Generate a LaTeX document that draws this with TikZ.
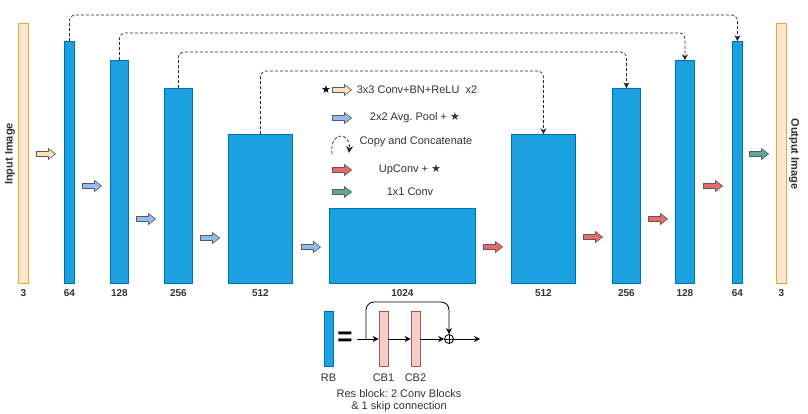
\documentclass[tikz,border=0pt]{standalone}
\usepackage{fontspec}
\setmainfont{Liberation Sans}
\newfontfamily\symfont{DejaVu Sans}
\usetikzlibrary{arrows.meta}
\frenchspacing
\definecolor{barfill}{HTML}{1BA1E2}
\definecolor{barline}{HTML}{006EAF}
\definecolor{imgfill}{HTML}{FFE6CC}
\definecolor{imgline}{HTML}{E5A83A}
\definecolor{cbfill}{HTML}{F8CECC}
\definecolor{cbline}{HTML}{B85450}
\definecolor{arrOr}{HTML}{FFDFB8}
\definecolor{arrBl}{HTML}{92BDF0}
\definecolor{arrRd}{HTML}{EA6B66}
\definecolor{arrGr}{HTML}{5FA898}
\definecolor{txt}{HTML}{333333}
\tikzset{
  bar/.style={draw=barline, fill=barfill, line width=0.8pt, inner sep=0pt, anchor=south west},
  img/.style={draw=imgline, fill=imgfill, line width=0.8pt, inner sep=0pt, anchor=south west},
  cbbox/.style={draw=cbline, fill=cbfill, line width=0.8pt, inner sep=0pt, minimum width=9pt, minimum height=55pt},
  num/.style={text=txt, font=\bfseries\fontsize{10}{12}\selectfont, inner sep=0pt},
  leg/.style={text=txt, font=\fontsize{11}{13}\selectfont, inner sep=0pt},
  blkarrow/.pic={\path[pic actions, draw=black!65, line width=0.6pt, line join=round]
     (-9.5,-2.5) -- (2.5,-2.5) -- (2.5,-5.5) -- (9.5,0) -- (2.5,5.5) -- (2.5,2.5) -- (-9.5,2.5) -- cycle;},
  skip/.style={draw=black!85, line width=0.7pt, dash pattern=on 3pt off 2pt, rounded corners=6pt,
     -{Stealth[length=6pt,width=6pt]}},
  rarr/.style={draw=black, line width=0.8pt, -{Stealth[length=6pt,width=6pt]}},
}
\begin{document}
\begin{tikzpicture}[x=1pt,y=-1pt]
\useasboundingbox[fill=white] (0,0) rectangle (808,414);
% coordinates
\coordinate (lab) at (0,293);
\coordinate (t1) at (0,15);
\coordinate (t2) at (0,33);
\coordinate (t3) at (0,52);
\coordinate (t4) at (0,71);
% bars
\node[img, minimum width=10pt, minimum height=260pt] (in) at (18,284) {};
\node[bar, minimum width=10pt, minimum height=242pt] (e1) at (64,284) {};
\node[bar, minimum width=18pt, minimum height=223pt] (e2) at (110,284) {};
\node[bar, minimum width=28pt, minimum height=195pt] (e3) at (164,284) {};
\node[bar, minimum width=64pt, minimum height=149pt] (e4) at (228,284) {};
\node[bar, minimum width=146pt, minimum height=75pt] (b) at (329,284) {};
\node[bar, minimum width=64pt, minimum height=149pt] (d4) at (511,284) {};
\node[bar, minimum width=28pt, minimum height=195pt] (d3) at (612,284) {};
\node[bar, minimum width=19pt, minimum height=223pt] (d2) at (675,284) {};
\node[bar, minimum width=10pt, minimum height=242pt] (d1) at (732,284) {};
\node[img, minimum width=10pt, minimum height=260pt] (out) at (776,284) {};
% labels
\node[num] at (in.south |- lab) {3};
\node[num] at (e1.south |- lab) {64};
\node[num] at (e2.south |- lab) {128};
\node[num] at (e3.south |- lab) {256};
\node[num] at (e4.south |- lab) {512};
\node[num] at (b.south |- lab) {1024};
\node[num] at (d4.south |- lab) {512};
\node[num] at (d3.south |- lab) {256};
\node[num] at (d2.south |- lab) {128};
\node[num] at (d1.south |- lab) {64};
\node[num] at (out.south |- lab) {3};
\node[text=txt, rotate=90, font=\bfseries\fontsize{11}{13}\selectfont] (tin) at (10,154) {Input Image};
\node[text=txt, rotate=-90, font=\bfseries\fontsize{11}{13}\selectfont] (tout) at (794,154) {Output Image};
% block arrows
\pic[fill=arrOr] (a0) at (46,154) {blkarrow};
\pic[fill=arrBl] (p1) at (92,186) {blkarrow};
\pic[fill=arrBl] (p2) at (146,219) {blkarrow};
\pic[fill=arrBl] (p3) at (210,238) {blkarrow};
\pic[fill=arrBl] (p4) at (311,247) {blkarrow};
\pic[fill=arrRd] (u1) at (493,247) {blkarrow};
\pic[fill=arrRd] (u2) at (593,237) {blkarrow};
\pic[fill=arrRd] (u3) at (658,219) {blkarrow};
\pic[fill=arrRd] (u4) at (713,186) {blkarrow};
\pic[fill=arrGr] (g1) at (759,154) {blkarrow};
% skip connections
\draw[skip] (e1.north) -- (e1.north |- t1) -- (d1.north |- t1) -- (d1.north);
\draw[skip] (e2.north) -- (e2.north |- t2) -- (d2.north |- t2) -- (d2.north);
\draw[skip] (e3.north) -- (e3.north |- t3) -- (d3.north |- t3) -- (d3.north);
\draw[skip] (e4.north) -- (e4.north |- t4) -- (d4.north |- t4) -- (d4.north);
% legend
\node[font=\symfont\fontsize{11}{11}\selectfont, inner sep=0pt] (star) at (326,90) {★};
\pic[fill=arrOr] (l1) at (342,90) {blkarrow};
\node[leg] (lt1) at (417,90) {3x3 Conv+BN+ReLU\ \ x2};
\pic[fill=arrBl] (l2) at (342,118) {blkarrow};
\node[leg] (lt2) at (415,118) {2x2 Avg. Pool + {\symfont\fontsize{11}{12}\selectfont ★}};
\coordinate (cs) at (332,154);
\coordinate (ce) at (349,153);
\draw[skip, -{Stealth[length=7pt,width=7pt]}] (cs) .. controls (329,131) and (351,131) .. (ce);
\node[leg] (lt3) at (416,142) {Copy and Concatenate};
\pic[fill=arrRd] (l4) at (342,170) {blkarrow};
\node[leg] (lt4) at (410,170) {UpConv + {\symfont\fontsize{11}{12}\selectfont ★}};
\pic[fill=arrGr] (l5) at (342,192) {blkarrow};
\node[leg] (lt5) at (410,192) {1x1 Conv};
% res block
\node[draw=barline, fill=barfill, line width=0.8pt, inner sep=0pt, minimum width=9pt, minimum height=55pt] (rb) at (328.5,339) {};
\node[font=\bfseries\fontsize{26}{26}\selectfont, inner sep=0pt] (eq) at (345,339) {=};
\node[cbbox] (cb1) at (383.5,339) {};
\node[cbbox] (cb2) at (415.5,339) {};
\node[circle, draw=black, line width=0.8pt, minimum size=9pt, inner sep=0pt] (op) at (449,339) {};
\draw[line width=0.8pt] (op.north) -- (op.south) (op.west) -- (op.east);
\coordinate (rin) at (357,339);
\coordinate (sk) at (366,339);
\coordinate (skt) at (0,302);
\coordinate (rout) at (480,339);
\draw[rarr] (rin) -- (cb1);
\draw[rarr] (cb1) -- (cb2);
\draw[rarr] (cb2) -- (op);
\draw[rarr] (op) -- (rout);
\draw[rarr, rounded corners=8pt] (sk) -- (sk |- skt) -- (op |- skt) -- (op);
\node[leg] (rbl) at (328.5,378) {RB};
\node[leg] (cbl1) at (383.5,378) {CB1};
\node[leg] (cbl2) at (415.5,378) {CB2};
\node[leg] (rd1) at (399,394) {Res block: 2 Conv Blocks};
\node[leg] (rd2) at (399,407) {\& 1 skip connection};
\end{tikzpicture}
\end{document}
